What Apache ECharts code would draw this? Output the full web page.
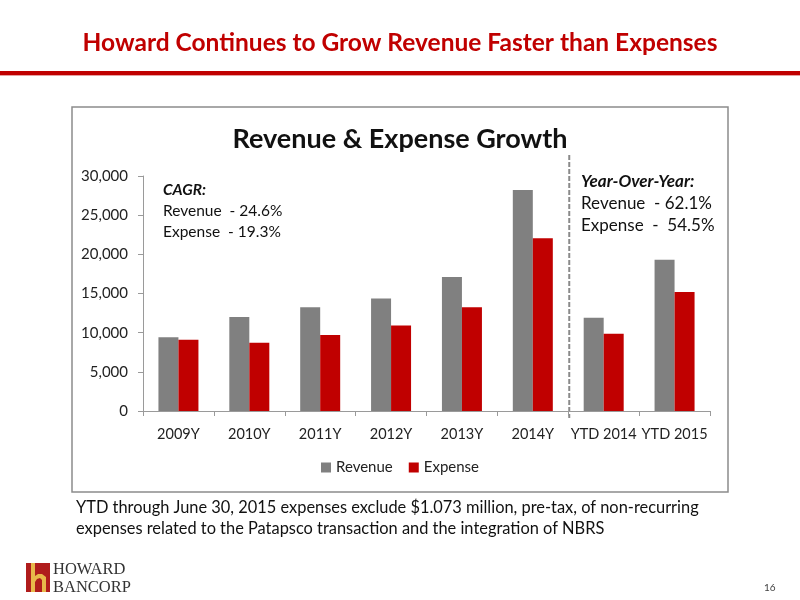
<!DOCTYPE html>
<html>
<head>
<meta charset="utf-8">
<script src="https://cdn.jsdelivr.net/npm/echarts@6/dist/echarts.min.js"></script>
<style>
html,body{margin:0;padding:0;background:#fff;}
#c{width:800px;height:600px;}
</style>
</head>
<body>
<div id="c"></div>
<script>
var categories = ['2009Y','2010Y','2011Y','2012Y','2013Y','2014Y','YTD 2014','YTD 2015'];
var revenue = [9400, 12000, 13250, 14350, 17100, 28200, 11900, 19300];
var expense = [9100, 8700, 9700, 10900, 13250, 22050, 9850, 15200];
var yTicks = [0, 5000, 10000, 15000, 20000, 25000, 30000];

var chart = echarts.init(document.getElementById('c'), null, {renderer:'canvas'});
var FONT = 'Lato';
var option = {
  backgroundColor: '#ffffff',
  animation: false,
  title: [{
    text: 'Howard Continues to Grow Revenue Faster than Expenses',
    left: 'center', top: 26,
    textStyle: {fontFamily: FONT, fontSize: 24.5, fontWeight: 'bold', color: '#C00000'}
  },{
    text: 'Revenue & Expense Growth',
    left: 'center', top: 121,
    textStyle: {fontFamily: FONT, fontSize: 27, fontWeight: 'bold', color: '#111'}
  }],
  legend: {
    data: ['Revenue','Expense'],
    bottom: 120, left: 'center',
    itemWidth: 10, itemHeight: 10, itemGap: 16,
    icon: 'rect',
    textStyle: {fontFamily: FONT, fontSize: 15, color: '#222'}
  },
  grid: {left: 143, right: 90, top: 176, bottom: 189, containLabel: false},
  xAxis: {
    type: 'category',
    data: categories,
    axisLine: {lineStyle: {color: '#9a9a9a', width: 1}},
    axisTick: {show: true, length: 5, lineStyle: {color: '#9a9a9a'}},
    axisLabel: {fontFamily: FONT, fontSize: 14.5, color: '#222', margin: 16, interval: 0}
  },
  yAxis: {
    type: 'value',
    min: 0, max: 30000, interval: 5000,
    axisLine: {show: true, lineStyle: {color: '#9a9a9a', width: 1}},
    axisTick: {show: true, length: 5, lineStyle: {color: '#9a9a9a'}},
    splitLine: {show: false},
    axisLabel: {fontFamily: FONT, fontSize: 15, color: '#222', margin: 15,
      formatter: function(v){ return yTicks.indexOf(v) >= 0 ? v.toLocaleString('en-US') : ''; }}
  },
  series: [{
    name: 'Revenue', type: 'bar', data: revenue,
    barWidth: 20, barGap: '0%',
    itemStyle: {color: '#808080'}
  },{
    name: 'Expense', type: 'bar', data: expense,
    barWidth: 20, barGap: '0%',
    itemStyle: {color: '#C00000'}
  }]
};
chart.setOption(option);

var x5 = chart.convertToPixel({xAxisIndex:0}, categories[5]);
var x6 = chart.convertToPixel({xAxisIndex:0}, categories[6]);
var xDash = (x5 + x6) / 2 + 1;

function txt(x, y, s, size, extra) {
  var st = {text: s, x: x, y: y, fontFamily: FONT, fontSize: size, fill: '#111', verticalAlign: 'top', align: 'left'};
  if (extra) { for (var k in extra) st[k] = extra[k]; }
  return {type: 'text', style: st};
}

chart.setOption({
  graphic: [
    {type:'rect', shape:{x:0, y:71, width:800, height:4}, style:{fill:'#C00000'}},
    {type:'rect', shape:{x:0, y:75, width:800, height:1}, style:{fill:'#e6a0a0'}},
    {type:'rect', shape:{x:72, y:107, width:656, height:385}, style:{fill:'none', stroke:'#8c8c8c', lineWidth:1.5}, z:-1},
    {type:'line', shape:{x1:xDash, y1:155, x2:xDash, y2:418}, style:{stroke:'#8a8a8a', lineWidth:2, lineDash:[5,2]}},
    txt(163, 182, 'CAGR:', 15.5, {fontWeight:'bold', fontStyle:'italic'}),
    txt(163, 203, 'Revenue  - 24.6%', 15.5),
    txt(163, 224, 'Expense  - 19.3%', 15.5),
    txt(581, 173, 'Year-Over-Year:', 17, {fontWeight:'bold', fontStyle:'italic'}),
    txt(581, 195, 'Revenue  - 62.1%', 17),
    txt(581, 217, 'Expense  -  54.5%', 17),
    txt(76, 500, 'YTD through June 30, 2015 expenses exclude $1.073 million, pre-tax, of non-recurring', 16.4),
    txt(76, 521, 'expenses related to the Patapsco transaction and the integration of NBRS', 16.4),
    {type:'rect', shape:{x:26, y:563, width:24, height:29}, style:{fill:'#B01C1C'}},
    {type:'polygon', shape:{points:[[31,563],[35,563],[35,576],[38,574],[42,574],[46,577],[46,592],[42,592],[42,580],[40,578],[37,579],[35,582],[35,592],[31,592]]}, style:{fill:'#E8B84A'}},
    txt(53, 561, 'HOWARD', 16.5, {fontFamily:'Liberation Serif', fill:'#333'}),
    txt(53, 579, 'BANCORP', 16.5, {fontFamily:'Liberation Serif', fill:'#333'}),
    txt(764, 583, '16', 10, {fill:'#444'})
  ]
});
</script>
</body>
</html>
